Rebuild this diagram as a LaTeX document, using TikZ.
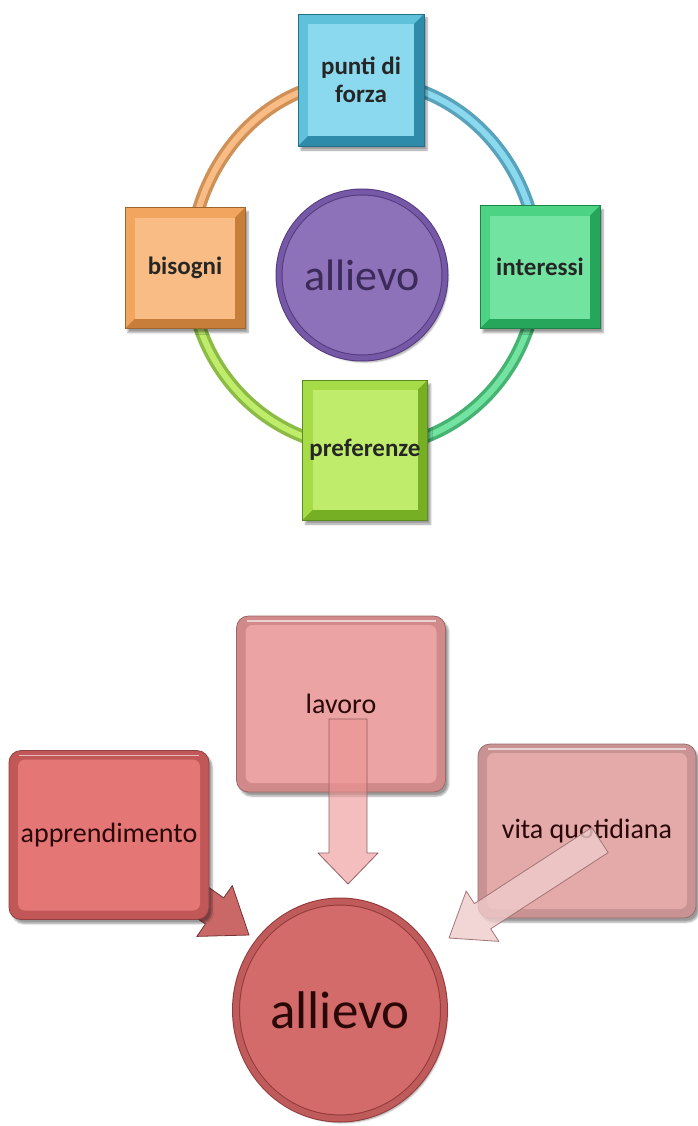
\documentclass[tikz,border=0pt]{standalone}
\usepackage{fontspec}
\setmainfont{Carlito}
\usetikzlibrary{calc,shadows.blur,shapes.geometric}

\definecolor{fzlight}{HTML}{5FC2DA}
\definecolor{fzface}{HTML}{8AD9EE}
\definecolor{fzdark}{HTML}{2E8CAA}
\definecolor{inlight}{HTML}{4CD384}
\definecolor{inface}{HTML}{72E3A0}
\definecolor{indark}{HTML}{25A65A}
\definecolor{prlight}{HTML}{A6DC48}
\definecolor{prface}{HTML}{C0EC6C}
\definecolor{prdark}{HTML}{76AE24}
\definecolor{bilight}{HTML}{F2A55E}
\definecolor{biface}{HTML}{F8BC84}
\definecolor{bidark}{HTML}{C67E3A}
\definecolor{alface}{HTML}{8E72B9}
\definecolor{alrim}{HTML}{7659A6}
\definecolor{aldark}{HTML}{553A80}
\definecolor{altext}{HTML}{3C2A5A}
\definecolor{lavbevel}{HTML}{D08A8A}
\definecolor{lavface}{HTML}{EBA3A3}
\definecolor{appbevel}{HTML}{C25757}
\definecolor{appface}{HTML}{E57676}
\definecolor{vitbevel}{HTML}{C99393}
\definecolor{vitface}{HTML}{E4A9A9}
\definecolor{allface}{HTML}{D46B6B}
\definecolor{allrim}{HTML}{C05B5B}
\definecolor{alldark}{HTML}{93393A}
\definecolor{redtext}{HTML}{2A0808}

\tikzset{
  ringbox/.style n args={3}{rectangle, draw=#3!80!black, line width=.6pt, fill=#1,
    inner sep=0pt, align=center, font=\bfseries\fontsize{25}{28}\selectfont, text=black!85,
    blur shadow={shadow xshift=3pt, shadow yshift=-4pt},
    path picture={
      \coordinate (pa) at (path picture bounding box.south west);
      \coordinate (pb) at (path picture bounding box.north east);
      \coordinate (pc) at (pa -| pb);
      \fill[#3] (pc) -- (pb) -- ([shift={(-10pt,-10pt)}]pb) -- ([shift={(-10pt,10pt)}]pc)
        -- ([shift={(10pt,10pt)}]pa) -- (pa) -- cycle;
      \fill[#2] ([shift={(10pt,10pt)}]pa) rectangle ([shift={(-10pt,-10pt)}]pb);
    }},
  tube/.style 2 args={draw=#1, double=#2, line width=3.5pt, double distance=6pt},
  redbox/.style 2 args={rectangle, rounded corners=12pt, fill=#1, draw=#1!75!black,
    line width=.8pt, inner sep=0pt, font=\fontsize{28}{32}\selectfont, text=redtext,
    blur shadow={shadow xshift=3pt, shadow yshift=-4pt},
    path picture={
      \coordinate (pa) at (path picture bounding box.south west);
      \coordinate (pb) at (path picture bounding box.north east);
      \coordinate (pc) at (pa |- pb);
      \fill[#2, rounded corners=7pt] ([shift={(9pt,9pt)}]pa) rectangle ([shift={(-9pt,-9pt)}]pb);
      \draw[white, opacity=.6, line width=1.5pt] ([shift={(10pt,-5pt)}]pc) -- ([shift={(-10pt,-5pt)}]pb);
    }},
  blockarr/.style 2 args={fill=#1, draw=#2, line width=.8pt, line join=round},
}

% block arrow: [style]{start}{tip}{half shaft}{half head}{head length}
\newcommand{\blockarrow}[6][]{%
  \coordinate (hb) at ($(#3)!#6!(#2)$);
  \filldraw[#1] ($(#2)!#4!90:(#3)$) -- ($(hb)!#4!90:(#3)$) -- ($(hb)!#5!90:(#3)$) -- (#3)
    -- ($(hb)!#5!-90:(#3)$) -- ($(hb)!#4!-90:(#3)$) -- ($(#2)!#4!-90:(#3)$) -- cycle;}

\begin{document}
\begin{tikzpicture}[x=1pt, y=-1pt]
  \useasboundingbox (0,0) rectangle (697,1126);

  % ciclo in alto
  \coordinate (puntiC) at (361,80);
  \coordinate (interessiC) at (538,267);
  \coordinate (preferenzeC) at (365,448);
  \coordinate (bisogniC) at (190,268);
  \draw[tube={fzdark!80}{fzface}] (puntiC) to[out=0, in=90] (interessiC);
  \draw[tube={indark!85}{inface}] (interessiC) to[out=-90, in=0] (preferenzeC);
  \draw[tube={prdark!85}{prface}] (preferenzeC) to[out=180, in=-90] (bisogniC);
  \draw[tube={bidark!85}{biface}] (bisogniC) to[out=90, in=180] (puntiC);

  \node[ringbox={fzlight}{fzface}{fzdark}, minimum width=126pt, minimum height=132pt] at (361,80) (punti) {punti di\\forza};
  \node[ringbox={inlight}{inface}{indark}, minimum width=120pt, minimum height=123pt] at (540,267) (interessi) {interessi};
  \node[ringbox={prlight}{prface}{prdark}, minimum width=125pt, minimum height=140pt] at (365,450) (preferenze) {preferenze};
  \node[ringbox={bilight}{biface}{bidark}, minimum width=120pt, minimum height=121pt] at (185,268) (bisogni) {bisogni};
  \node[circle, minimum size=166pt, fill=alface, draw=aldark, line width=1pt, double=alrim,
    double distance=5pt, blur shadow={shadow xshift=3pt, shadow yshift=-4pt},
    font=\fontsize{44}{48}\selectfont, text=altext] at (362,275) (allievoT) {allievo};

  % schema in basso
  \coordinate (appC) at (109,835);
  \coordinate (appS) at ($(appC)+(1,3)$);
  \coordinate (appT) at (249,935);
  \blockarrow[blockarr={appface!88!black}{appbevel!60!black}]{appS}{appT}{16pt}{31pt}{42pt}

  \node[redbox={lavbevel}{lavface}, minimum width=209pt, minimum height=176pt] at (341,704) (lavoro) {lavoro};
  \node[redbox={appbevel}{appface}, minimum width=200pt, minimum height=169pt] at (appC) (apprendimento) {apprendimento};
  \node[redbox={vitbevel}{vitface}, minimum width=218pt, minimum height=174pt] at (587,831) (vita) {vita quotidiana};
  \node[ellipse, minimum width=208pt, minimum height=217pt, fill=allface, draw=alldark, line width=1pt,
    double=allrim, double distance=6pt, blur shadow={shadow xshift=3pt, shadow yshift=-4pt},
    font=\fontsize{53}{56}\selectfont, text=redtext] at (340,1010) (allievoB) {allievo};

  \coordinate (lavS) at ($(lavoro.center)+(7,15)$);
  \coordinate (lavT) at ($(allievoB.center)+(8,-126)$);
  \coordinate (vitS) at ($(vita.center)+(13,9)$);
  \coordinate (vitT) at ($(allievoB.center)+(109,-72)$);

  \blockarrow[blockarr={lavface!90!red}{lavbevel!70!black}, fill opacity=.6]{lavS}{lavT}{19pt}{30pt}{31pt}
  \blockarrow[blockarr={vitface!60!white}{vitbevel!80!black}, fill opacity=.8]{vitS}{vitT}{15pt}{30pt}{40pt}
\end{tikzpicture}
\end{document}
